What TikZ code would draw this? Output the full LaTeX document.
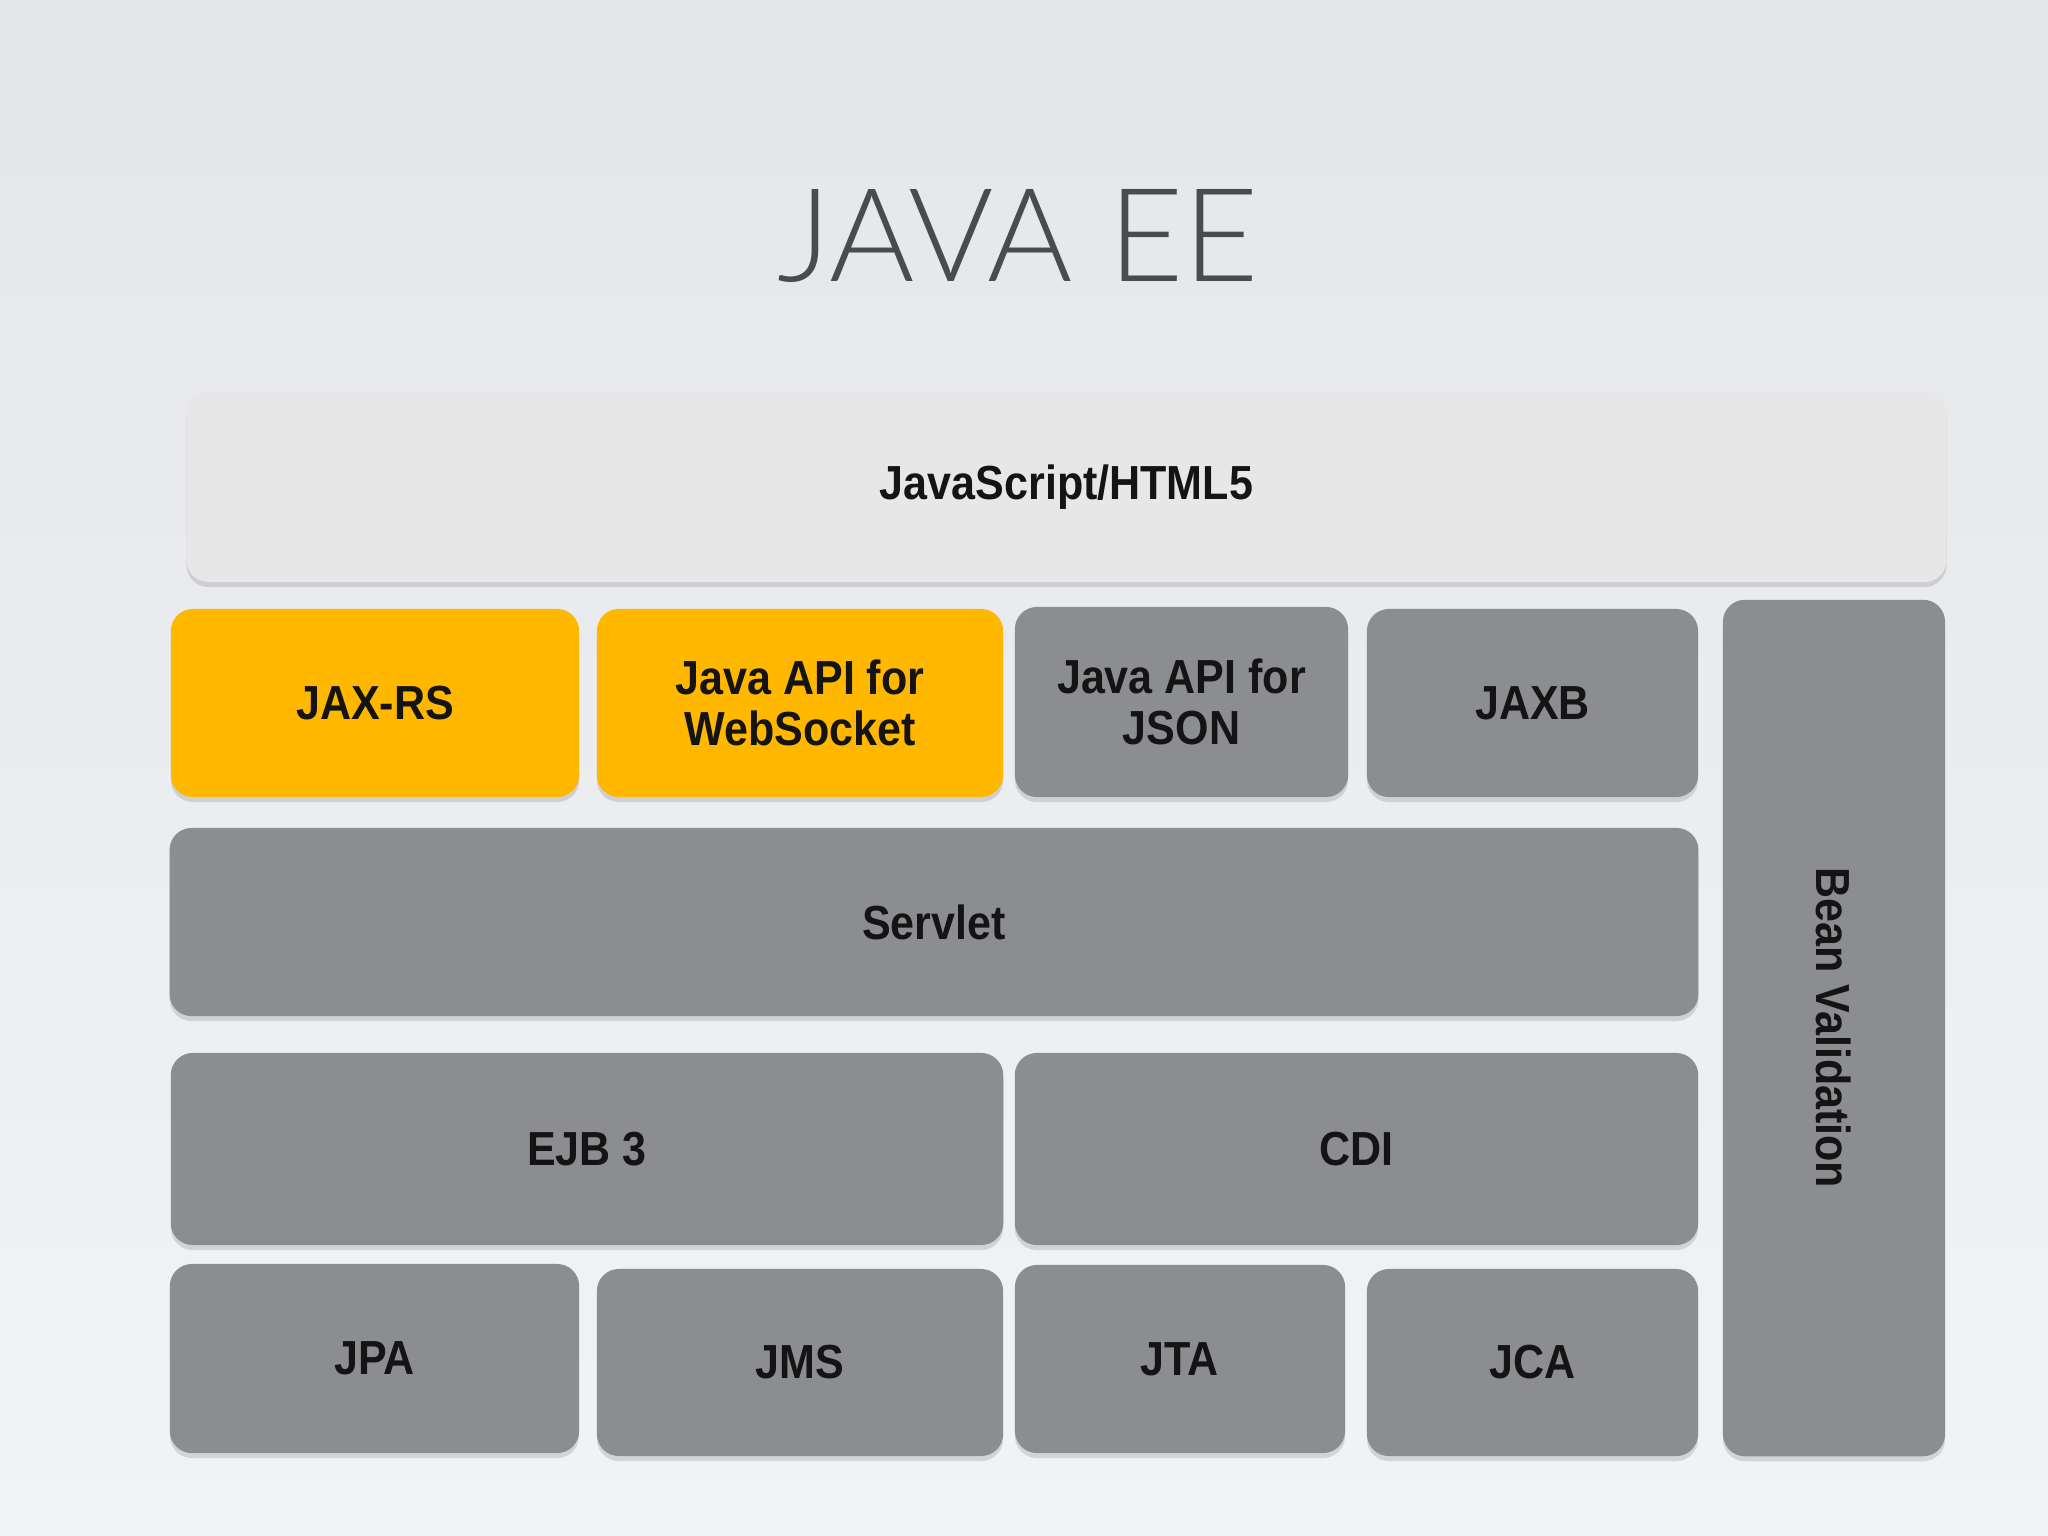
\documentclass[tikz,border=0pt]{standalone}
\usepackage{fontspec}
\setmainfont{Liberation Sans}[FakeStretch=0.9]
\newfontfamily\titlefont{Lato}[UprightFont={* Light}]
\usetikzlibrary{shadows}
\definecolor{bgtop}{HTML}{E4E6EA}
\definecolor{bgbot}{HTML}{F2F3F5}
\definecolor{orng}{HTML}{FFB700}
\definecolor{gry}{HTML}{8C8D90}
\definecolor{lgry}{HTML}{E8E7E8}
\definecolor{ttl}{HTML}{4A4B4F}
\tikzset{
  lbl/.style={font=\fontsize{13.6}{14.6}\selectfont\bfseries, text=black!92},
  blk/.style={lbl, rounded corners=0.22cm, inner sep=0pt, align=center,
    drop shadow={shadow xshift=0pt, shadow yshift=-0.05cm, fill=black, opacity=0.12}},
  gbox/.style={blk, fill=gry},
  obox/.style={blk, fill=orng},
  lbox/.style={blk, fill=lgry},
}
\begin{document}
\begin{tikzpicture}[x=0.01cm,y=-0.01cm]
\shade[top color=bgtop, bottom color=bgbot] (0,0) rectangle (2048,1536);
\useasboundingbox (0,0) rectangle (2048,1536);
\node[text=ttl, font=\titlefont\fontsize{37}{37}\selectfont, anchor=base] (title) at (1018,281) {JAVA EE};
% top bar
\node[lbox, minimum width=17.59cm, minimum height=1.90cm] (js) at (1066.5,487) {JavaScript/HTML5};
% row 1
\node[obox, minimum width=4.08cm, minimum height=1.88cm] (jaxrs) at (375,703) {JAX-RS};
\node[obox, minimum width=4.06cm, minimum height=1.88cm] (ws) at (800,703) {Java API for\\WebSocket};
\node[gbox, minimum width=3.33cm, minimum height=1.90cm] (json) at (1181.5,702) {Java API for\\JSON};
\node[gbox, minimum width=3.31cm, minimum height=1.88cm] (jaxb) at (1532.5,703) {JAXB};
% bean validation
\node[gbox, minimum width=2.22cm, minimum height=8.56cm] (bean) at (1834,1028) {};
\node[lbl, rotate=-90] (beantxt) at (bean.center) {Bean Validation};
% servlet
\node[gbox, minimum width=15.28cm, minimum height=1.88cm] (servlet) at (934,922) {Servlet};
% row 3
\node[gbox, minimum width=8.32cm, minimum height=1.92cm] (ejb) at (587,1149) {EJB 3};
\node[gbox, minimum width=6.83cm, minimum height=1.92cm] (cdi) at (1356.5,1149) {CDI};
% row 4
\node[gbox, minimum width=4.09cm, minimum height=1.89cm] (jpa) at (374.5,1358.5) {JPA};
\node[gbox, minimum width=4.06cm, minimum height=1.87cm] (jms) at (800,1362.5) {JMS};
\node[gbox, minimum width=3.30cm, minimum height=1.88cm] (jta) at (1180,1359) {JTA};
\node[gbox, minimum width=3.31cm, minimum height=1.87cm] (jca) at (1532.5,1362.5) {JCA};
\end{tikzpicture}
\end{document}
